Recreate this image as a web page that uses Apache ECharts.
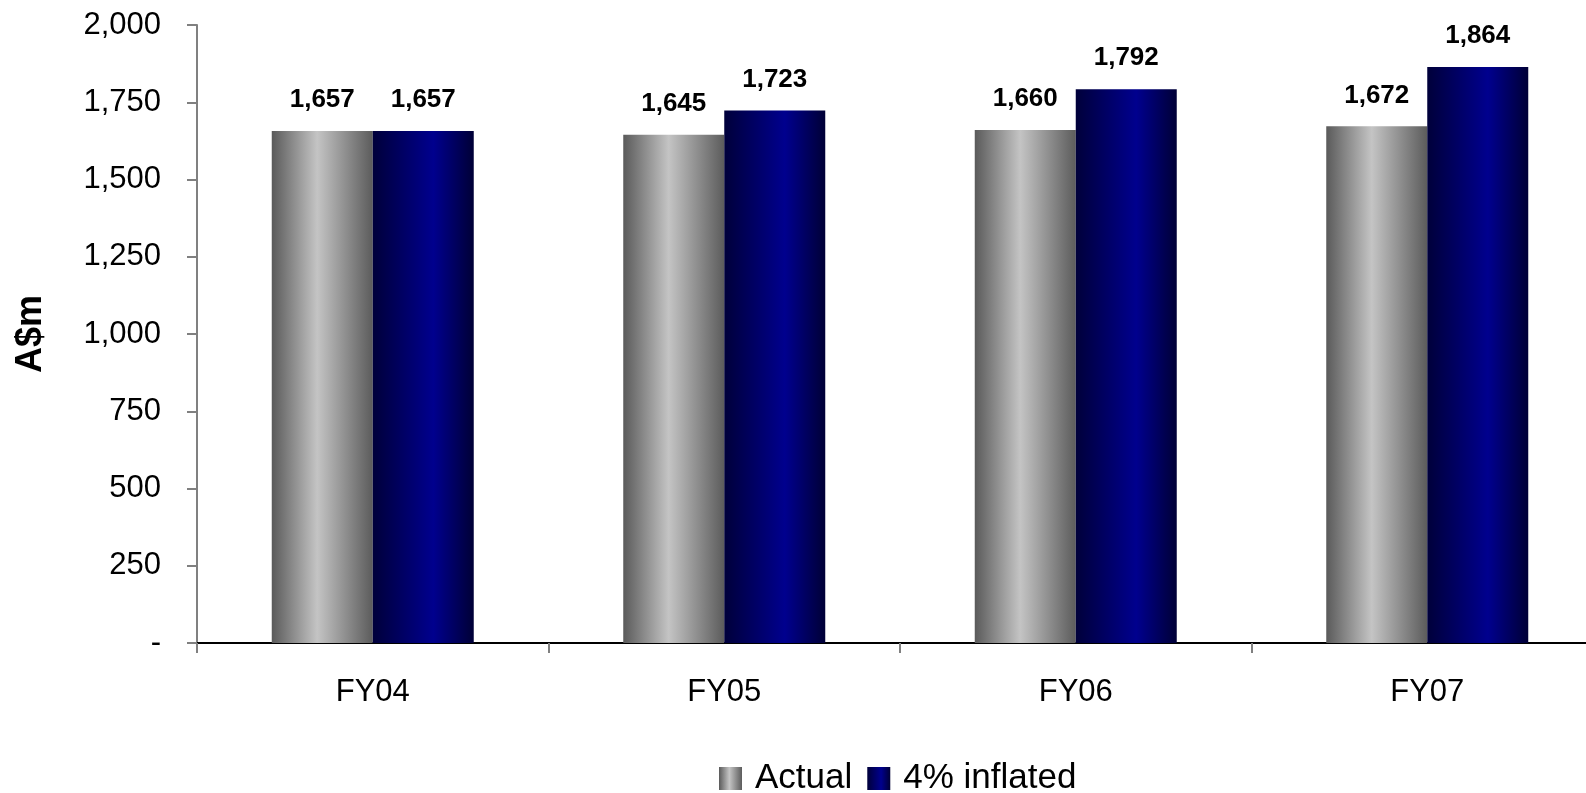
<!DOCTYPE html>
<html>
<head>
<meta charset="utf-8">
<script src="https://cdn.jsdelivr.net/npm/echarts@6/dist/echarts.min.js"></script>
<style>
html,body{margin:0;padding:0;background:#fff;}
#c{width:1586px;height:793px;}
</style>
</head>
<body>
<div id="c"></div>
<script>
var categories = ['FY04', 'FY05', 'FY06', 'FY07'];
var actualValues = [1657, 1645, 1660, 1672];
var inflatedValues = [1657, 1723, 1792, 1864];
var seriesNames = ['Actual', '4% inflated'];
var yAxisName = 'A$m';

var FONT = "'Liberation Sans', Arial, sans-serif";
var grayGrad = new echarts.graphic.LinearGradient(0, 0, 1, 0, [
  {offset: 0, color: '#5a5a5a'},
  {offset: 0.45, color: '#c4c4c4'},
  {offset: 1, color: '#5c5c5c'}
]);
var navyGrad = new echarts.graphic.LinearGradient(0, 0, 1, 0, [
  {offset: 0, color: '#00003a'},
  {offset: 0.6, color: '#00008e'},
  {offset: 1, color: '#000036'}
]);
function fmt(v){ return v === 0 ? '-' : v.toString().replace(/\B(?=(\d{3})+(?!\d))/g, ','); }

var chart = echarts.init(document.getElementById('c'));
chart.setOption({
  animation: false,
  backgroundColor: '#ffffff',
  textStyle: {fontFamily: FONT},
  grid: {left: 197, width: 1406, top: 25, height: 618, containLabel: false, outerBoundsMode: 'none'},
  legend: {
    data: seriesNames,
    left: 714, top: 756,
    itemWidth: 23, itemHeight: 23, itemGap: 15,
    icon: 'rect',
    textStyle: {fontSize: 35, color: '#000', fontFamily: FONT, padding: [0, 0, 0, 8]}
  },
  xAxis: {
    type: 'category',
    data: categories,
    axisLine: {lineStyle: {color: '#000', width: 2}},
    axisTick: {show: true, length: 10, lineStyle: {color: '#808080', width: 2}},
    axisLabel: {fontSize: 31, color: '#000', margin: 34, fontFamily: FONT}
  },
  yAxis: {
    type: 'value',
    min: 0, max: 2000, interval: 250,
    name: yAxisName,
    nameLocation: 'middle',
    nameGap: 148,
    nameTextStyle: {fontSize: 36, fontWeight: 'bold', color: '#000', fontFamily: FONT},
    axisLine: {show: true, lineStyle: {color: '#808080', width: 2}},
    axisTick: {show: true, length: 10, lineStyle: {color: '#808080', width: 2}},
    splitLine: {show: false},
    axisLabel: {fontSize: 31, color: '#000', margin: 36, formatter: fmt, fontFamily: FONT}
  },
  series: [
    {
      name: seriesNames[0], type: 'bar', data: actualValues,
      barWidth: 101, barGap: '0%',
      itemStyle: {color: grayGrad},
      label: {show: true, position: 'top', distance: 18, fontSize: 26, fontWeight: 'bold', color: '#000', formatter: function(p){return fmt(p.value);}, fontFamily: FONT}
    },
    {
      name: seriesNames[1], type: 'bar', data: inflatedValues,
      barWidth: 101, barGap: '0%',
      itemStyle: {color: navyGrad},
      label: {show: true, position: 'top', distance: 18, fontSize: 26, fontWeight: 'bold', color: '#000', formatter: function(p){return fmt(p.value);}, fontFamily: FONT}
    }
  ]
});
</script>
</body>
</html>
